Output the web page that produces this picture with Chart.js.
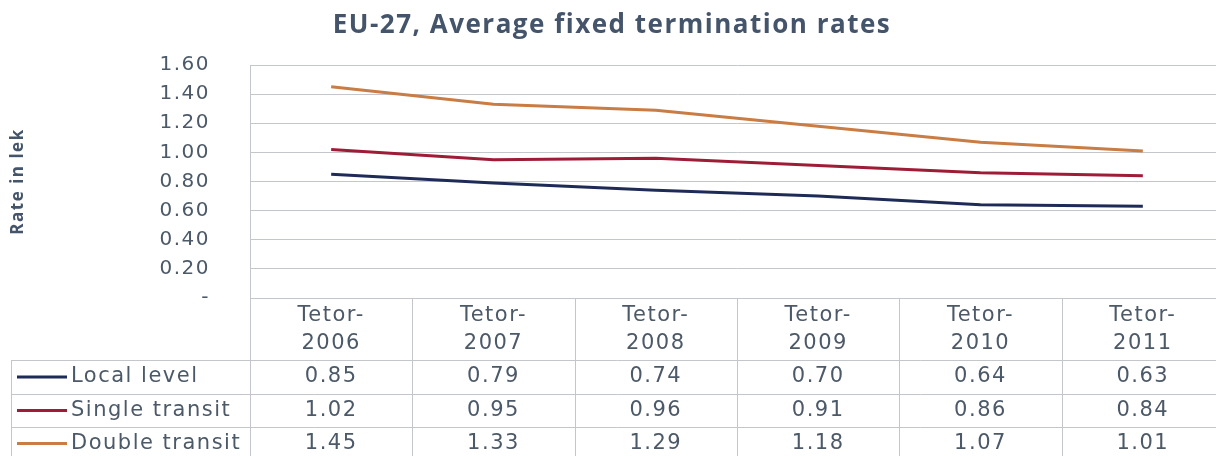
<!DOCTYPE html>
<html lang="en">
<head>
  <meta charset="UTF-8">
  <title>EU-27, Average fixed termination rates</title>
  <script src="https://cdn.jsdelivr.net/npm/chart.js"></script>
  <style>
    html, body {
      margin: 0;
      padding: 0;
      overflow: hidden;
      background: #ffffff;
    }
    .container {
      width: 1232px;
      height: 456px;
      position: relative;
    }
  </style>
</head>
<body>
  <div class="container">
    <canvas id="ratesChart"></canvas>
  </div>

  <script>
    // datos
    const categories = ['Tetor-2006', 'Tetor-2007', 'Tetor-2008', 'Tetor-2009', 'Tetor-2010', 'Tetor-2011'];
    const localLevel = [0.85, 0.79, 0.74, 0.70, 0.64, 0.63];
    const singleTransit = [1.02, 0.95, 0.96, 0.91, 0.86, 0.84];
    const doubleTransit = [1.45, 1.33, 1.29, 1.18, 1.07, 1.01];
    const seriesNames = ['Local level', 'Single transit', 'Double transit'];
    const seriesColors = ['#1f2b57', '#9e1c36', '#c97c43'];
    const yMin = 0, yMax = 1.6, yStep = 0.2;

    const textColor = '#4b5968';
    const gridColor = '#c3c6ca';
    const bodyFont = 'DejaVu Sans';

    // el texto del original es algo mas ancho
    const spacing = {
      id: 'spacing',
      beforeLayout(chart) { chart.ctx.letterSpacing = '1.5px'; },
      beforeDraw(chart) { chart.ctx.letterSpacing = '1.5px'; }
    };

    // tabla de datos debajo del grafico
    const dataTable = {
      id: 'dataTable',
      afterDraw(chart) {
        const ctx = chart.ctx;
        const area = chart.chartArea;
        const xs = chart.scales.x;
        const n = categories.length;
        const catW = (area.right - area.left) / n;
        const headTop = area.bottom;
        const rowTops = [360, 394, 427, 460];
        const legendLeft = 11;
        const bottom = 470;

        ctx.save();
        ctx.strokeStyle = gridColor;
        ctx.lineWidth = 1;
        ctx.beginPath();
        // lineas verticales
        for (let i = 0; i <= n; i++) {
          const x = Math.round(area.left + i * catW) + 0.5;
          ctx.moveTo(x, headTop);
          ctx.lineTo(x, bottom);
        }
        ctx.moveTo(legendLeft + 0.5, rowTops[0]);
        ctx.lineTo(legendLeft + 0.5, bottom);
        // lineas horizontales
        rowTops.forEach(y => {
          ctx.moveTo(legendLeft, y + 0.5);
          ctx.lineTo(area.right, y + 0.5);
        });
        ctx.stroke();

        ctx.letterSpacing = '1.5px';
        ctx.fillStyle = textColor;
        ctx.font = '21px "' + bodyFont + '"';
        ctx.textAlign = 'center';
        ctx.textBaseline = 'middle';
        categories.forEach((c, i) => {
          const cx = xs.getPixelForValue(i);
          const parts = c.split('-');
          ctx.fillText(parts[0] + '-', cx, 316);
          ctx.fillText(parts[1], cx, 344);
        });

        const rows = [localLevel, singleTransit, doubleTransit];
        rows.forEach((vals, r) => {
          const cy = (rowTops[r] + rowTops[r + 1]) / 2;
          ctx.strokeStyle = seriesColors[r];
          ctx.lineWidth = 3;
          ctx.beginPath();
          ctx.moveTo(17, cy);
          ctx.lineTo(67, cy);
          ctx.stroke();
          ctx.fillStyle = textColor;
          ctx.textAlign = 'left';
          ctx.fillText(seriesNames[r], 71, cy);
          ctx.textAlign = 'center';
          vals.forEach((v, i) => {
            ctx.fillText(v.toFixed(2), xs.getPixelForValue(i), cy);
          });
        });
        ctx.restore();
      }
    };

    const ctx = document.getElementById('ratesChart').getContext('2d');
    const chart = new Chart(ctx, {
      type: 'line',
      data: {
        labels: categories,
        datasets: [localLevel, singleTransit, doubleTransit].map((d, i) => ({
          label: seriesNames[i],
          data: d,
          borderColor: seriesColors[i],
          backgroundColor: seriesColors[i],
          borderWidth: 3,
          pointRadius: 0,
          tension: 0
        }))
      },
      options: {
        responsive: true,
        maintainAspectRatio: false,
        animation: false,
        layout: {
          padding: { left: 0, right: 8, top: 0, bottom: 158 }
        },
        plugins: {
          legend: { display: false },
          tooltip: { enabled: false },
          title: {
            display: true,
            text: 'EU-27, Average fixed termination rates',
            color: '#44546a',
            font: { family: 'Open Sans', size: 26, weight: 'bold' },
            padding: { top: 10, bottom: 23.8 }
          }
        },
        scales: {
          x: {
            display: false,
            offset: true
          },
          y: {
            min: yMin,
            max: yMax,
            afterFit(scale) { scale.width = 250; },
            ticks: {
              stepSize: yStep,
              padding: 40,
              color: textColor,
              font: { family: bodyFont, size: 20 },
              callback: v => (v === 0 ? '-' : v.toFixed(2))
            },
            grid: { color: gridColor, drawTicks: false },
            border: { display: true, color: gridColor },
            title: {
              display: true,
              text: 'Rate in lek',
              color: '#44546a',
              font: { family: 'Open Sans', size: 17, weight: 'bold' },
              padding: { top: 8, bottom: 0 }
            }
          }
        }
      },
      plugins: [spacing, dataTable]
    });
  </script>
</body>
</html>
